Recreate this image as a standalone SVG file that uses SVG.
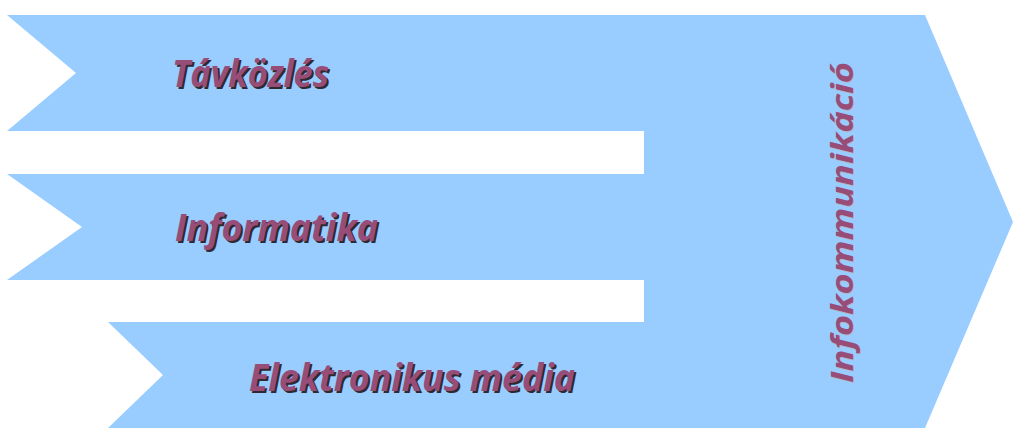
<svg xmlns="http://www.w3.org/2000/svg" width="1024" height="442" viewBox="0 0 1024 442">
  <style>
    .shape { fill: #99CCFF; stroke: none; }
    .lbl { font-family: "Open Sans", "Liberation Sans", sans-serif; font-weight: bold; font-style: italic; fill: #984D79; }
    .sh { fill: #2e2a30; }
    .vsh { fill: #b4b4c4; }
  </style>
  <rect width="1024" height="442" fill="#ffffff"/>
  <g id="infokommunikacio">
    <polygon class="shape" points="644,15 925,15 1013,222 925,428 644,428"/>
    <text class="lbl vsh" font-size="31" transform="translate(854,384) rotate(-90)" textLength="321" lengthAdjust="spacingAndGlyphs">Infokommunikáció</text>
    <text class="lbl" font-size="31" transform="translate(853,383) rotate(-90)" textLength="321" lengthAdjust="spacingAndGlyphs">Infokommunikáció</text>
  </g>
  <g id="tavkozles">
    <polygon class="shape" points="7,15 646,15 646,131 7,131 76,73"/>
    <text class="lbl sh" x="174" y="89" font-size="38" textLength="157" lengthAdjust="spacingAndGlyphs">Távközlés</text>
    <text class="lbl" x="172" y="87" font-size="38" textLength="157" lengthAdjust="spacingAndGlyphs">Távközlés</text>
  </g>
  <g id="informatika">
    <polygon class="shape" points="7,174 646,174 646,280 7,280 82,227"/>
    <text class="lbl sh" x="177" y="243" font-size="38" textLength="203" lengthAdjust="spacingAndGlyphs">Informatika</text>
    <text class="lbl" x="175" y="241" font-size="38" textLength="203" lengthAdjust="spacingAndGlyphs">Informatika</text>
  </g>
  <g id="elektronikus-media">
    <polygon class="shape" points="108,322 646,322 646,428 108,428 163,375"/>
    <text class="lbl sh" x="251" y="393" font-size="38" textLength="326" lengthAdjust="spacingAndGlyphs">Elektronikus média</text>
    <text class="lbl" x="249" y="391" font-size="38" textLength="326" lengthAdjust="spacingAndGlyphs">Elektronikus média</text>
  </g>
  <g id="connectors"></g>
</svg>
